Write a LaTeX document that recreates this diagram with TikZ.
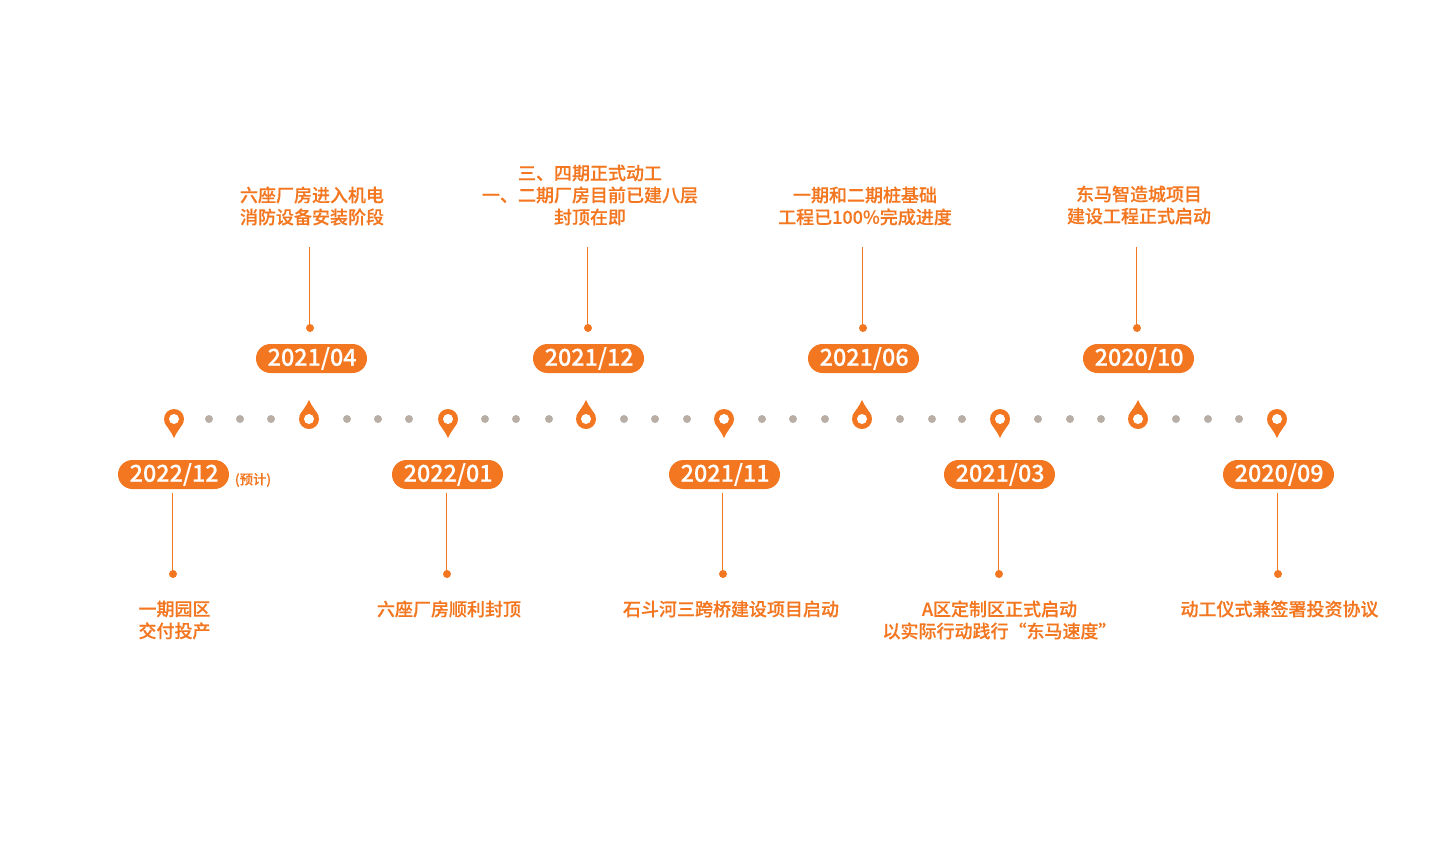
\documentclass[tikz,border=0pt]{standalone}
\usepackage{fontspec}
\setmainfont{Noto Sans CJK SC}
\newfontfamily\cjkm[FakeBold=0.3]{Noto Sans CJK SC Medium}
\definecolor{org}{HTML}{F37721}
\definecolor{gdot}{HTML}{B9AEA6}
\newcommand{\dt}[1]{\hspace*{1pt}\raisebox{-0.6pt}{#1}}
\tikzset{
  pill/.style={fill=org,text=white,rounded corners=14.5*0.75pt,minimum width=83.25pt,minimum height=21.75pt,inner sep=0pt,font=\cjkm\fontsize{17.5}{18}\selectfont},
  captext/.style={text=org,align=center,inner sep=0pt,font=\cjkm\fontsize{13.5}{16.5}\selectfont},
  stem/.style={draw=org,line width=0.6pt},
  enddot/.style={circle,fill=org,inner sep=0pt,minimum size=6pt},
  graydot/.style={circle,fill=gdot,inner sep=0pt,minimum size=6pt},
  pindown/.pic={
    \fill[org] (0,0) circle[radius=10];
    \fill[org] (-9.4,3.4) .. controls (-8,7) and (-3,12) .. (0,19) .. controls (3,12) and (8,7) .. (9.4,3.4) -- cycle;
    \fill[white] (0,0) circle[radius=5];
  },
  pinup/.pic={
    \fill[org] (0,0) circle[radius=10];
    \fill[org] (-9.4,-3.4) .. controls (-8,-7) and (-3,-12) .. (0,-19) .. controls (3,-12) and (8,-7) .. (9.4,-3.4) -- cycle;
    \fill[white] (0,0) circle[radius=5];
  }
}
\begin{document}
\begin{tikzpicture}[x=0.75pt,y=-0.75pt]
\useasboundingbox (0,0) rectangle (1440,840);
% pins
\foreach \x in {174,448,724,1000,1277}{\pic at (\x,419) {pindown};}
\foreach \x in {309,586,862,1138}{\pic at (\x,419) {pinup};}
% gray dots
\foreach \x in {209,240,271,347,378,409,485,516,549,624,655,687,762,793,825,900,932,962,1038,1070,1101,1176,1208,1239}{\node[graydot] at (\x,419) {};}
% pills
\node[pill] (p1) at (173.5,474.5) {\dt{2022/12}};
\node[pill] (p2) at (447.5,474.5) {\dt{2022/01}};
\node[pill] (p3) at (724.5,474.5) {\dt{2021/11}};
\node[pill] (p4) at (999.5,474.5) {\dt{2021/03}};
\node[pill] (p5) at (1278.5,474.5) {\dt{2020/09}};
\node[pill] (q1) at (311.5,358.5) {\dt{2021/04}};
\node[pill] (q2) at (588.5,358.5) {\dt{2021/12}};
\node[pill] (q3) at (863.5,358.5) {\dt{2021/06}};
\node[pill] (q4) at (1138.5,358.5) {\dt{2020/10}};
\node[text=org,inner sep=0pt,font=\cjkm\fontsize{10}{10}\selectfont] (est) at (253,480) {(预计)};
% lower stems
\foreach \n/\x in {a/172,b/446,c/722,d/998,e/1277}{
  \coordinate (t\n) at (\x,493);
  \node[enddot] (d\n) at (\x+1,574) {};
  \draw[stem] (t\n) -- (t\n |- d\n);
}
% upper stems
\foreach \n/\x in {f/309,g/587,h/862,i/1136}{
  \coordinate (t\n) at (\x,247);
  \node[enddot] (d\n) at (\x+1,328) {};
  \draw[stem] (t\n) -- (t\n |- d\n);
}
% captions
\node[captext] (c1) at (174.5,620) {一期园区\\交付投产};
\node[captext] (c2) at (449,609) {六座厂房顺利封顶};
\node[captext] (c3) at (731,609) {石斗河三跨桥建设项目启动};
\node[captext] (c4) at (999.5,620) {A区定制区正式启动\\以实际行动践行“东马速度”};
\node[captext] (c5) at (1279.5,609) {动工仪式兼签署投资协议};
\node[captext] (c6) at (312,206) {六座厂房进入机电\\消防设备安装阶段};
\node[captext] (c7) at (590,195) {三、四期正式动工\\一、二期厂房目前已建八层\\封顶在即};
\node[captext] (c8) at (865,206) {一期和二期桩基础\\工程已100\%完成进度};
\node[captext] (c9) at (1139,205) {东马智造城项目\\建设工程正式启动};
\end{tikzpicture}
\end{document}
